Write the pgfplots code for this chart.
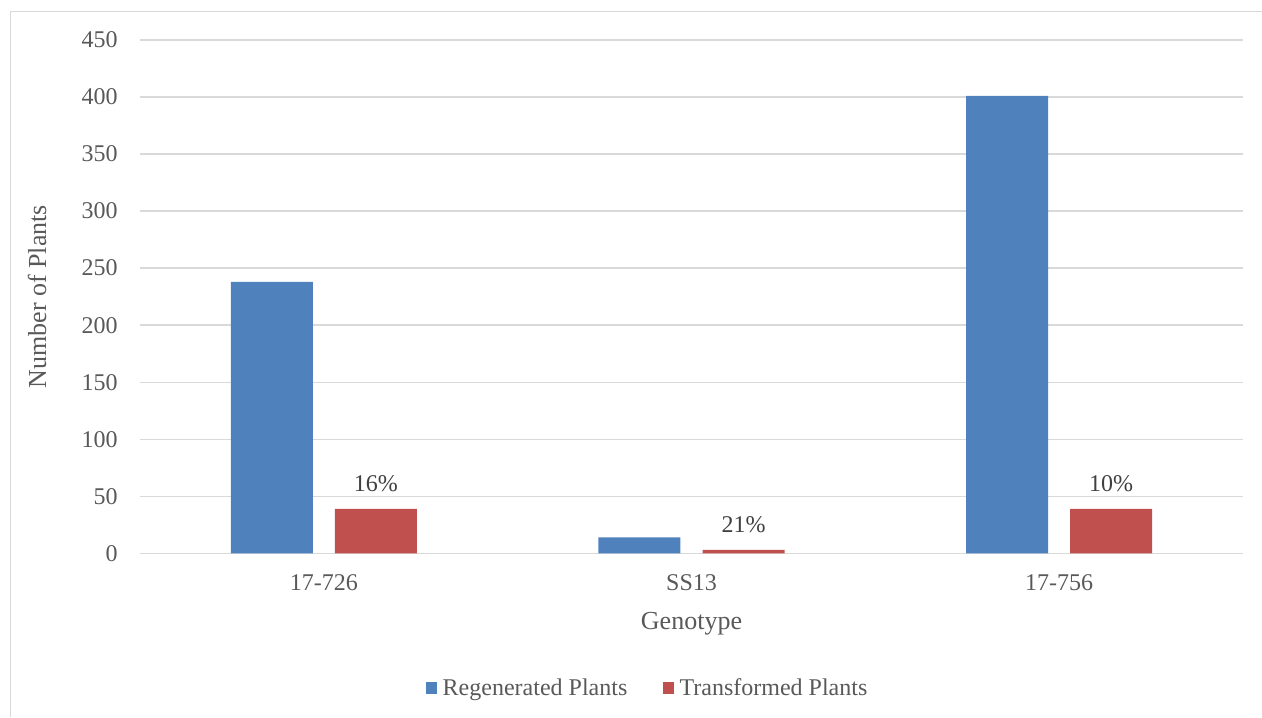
\documentclass[border=0pt]{standalone}
\usepackage{fontspec}
\setmainfont{Liberation Serif}
\usepackage{pgfplots}
\usepackage{pgfplotstable}
\pgfplotsset{compat=1.18}

\definecolor{regen}{HTML}{4F81BD}
\definecolor{trans}{HTML}{C0504D}
\definecolor{gridgray}{HTML}{D9D9D9}
\definecolor{labelgray}{HTML}{595959}
\definecolor{valuegray}{HTML}{404040}

% Plants per genotype; pct = transformed share of regenerated plants
\pgfplotstableread{
idx regen trans pct
0   238   39    16
1   14    3     21
2   401   39    10
}\genotypes

\begin{document}
\begin{tikzpicture}
\useasboundingbox (0,0) rectangle (946.5pt,537.75pt);
% chart area border
\draw[gridgray, line width=1.1pt] (7.875pt,0pt) -- (7.875pt,529.125pt) -- (946.5pt,529.125pt);
\begin{axis}[
  at={(105pt,122.775pt)}, anchor=south west,
  scale only axis, width=827.25pt, height=384.975pt,
  xmin=-0.5, xmax=2.5, ymin=0, ymax=450,
  ytick={0,50,...,450},
  xtick={0,1,2}, xticklabels={17-726,SS13,17-756},
  axis line style={draw=none},
  major tick length=0pt,
  ymajorgrids, grid style={gridgray, line width=1pt},
  /pgf/number format/assume math mode=true,
  tick label style={font=\fontsize{18}{21}\selectfont, text=labelgray, inner sep=0pt},
  yticklabel style={anchor=east, xshift=-16.5pt},
  xticklabel style={anchor=north, yshift=-15.5pt},
  xlabel={Genotype},
  xlabel style={at={(axis description cs:0.5,-0.137)}, anchor=center, inner sep=0pt,
    font=\fontsize{19.5}{23}\selectfont, text=labelgray},
  ylabel={Number of Plants},
  ylabel style={at={(axis description cs:-0.0934,0.5)}, anchor=center, inner sep=0pt,
    font=\fontsize{19.5}{23}\selectfont, text=labelgray},
  legend columns=2,
  legend style={at={(0.4605,-0.2624)}, anchor=center, draw=none,
    font=\fontsize{18}{21}\selectfont, text=labelgray,
    /tikz/every odd column/.append style={column sep=2pt},
    /tikz/every even column/.append style={column sep=24.5pt}},
  legend image code/.code={\fill[#1] (0pt,-4.4pt) rectangle (8.7pt,4.3pt);},
]
% regenerated plants, left bar of each group
\addplot[ybar, bar width=0.223, bar shift=0, fill=regen, draw=none]
  table[x expr=\thisrow{idx}-0.1415, y=regen] {\genotypes};
\addlegendentry{Regenerated Plants}
% transformed plants, right bar of each group, labelled with its share
\addplot[ybar, bar width=0.223, bar shift=0, fill=trans, draw=none,
  point meta=explicit,
  nodes near coords={\pgfmathprintnumber{\pgfplotspointmeta}\%},
  every node near coord/.append style={font=\fontsize{18}{21}\selectfont,
    text=valuegray, inner sep=0pt, anchor=south, yshift=12.5pt}]
  table[x expr=\thisrow{idx}+0.1415, y=trans, meta=pct] {\genotypes};
\addlegendentry{Transformed Plants}
\end{axis}
\end{tikzpicture}
\end{document}
